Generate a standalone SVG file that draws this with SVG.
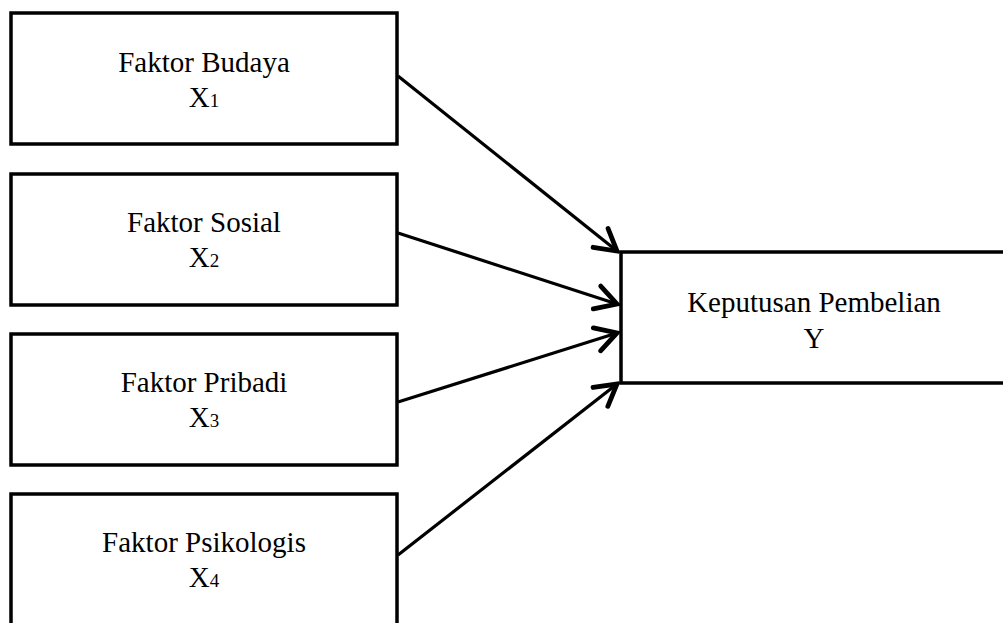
<svg xmlns="http://www.w3.org/2000/svg" width="1003" height="623" viewBox="0 0 1003 623">
<style>
.box{fill:#fff;stroke:#000;stroke-width:3.5}
.t{font-family:"Liberation Serif","Times New Roman",serif;font-size:29px;fill:#000;text-anchor:middle}
.sub{font-size:19px}
.c{stroke:#000;stroke-width:3.2;fill:none;marker-end:url(#ah)}
</style>
<defs>
<marker id="ah" markerUnits="userSpaceOnUse" markerWidth="30" markerHeight="30" refX="18" refY="10" orient="auto" viewBox="0 0 20 20">
<path d="M4,2 L18,10 L4,18" fill="none" stroke="#000" stroke-width="3.2" stroke-linecap="round" stroke-linejoin="miter"/>
</marker>
</defs>
<g id="x1"><rect class="box" x="11" y="13" width="386" height="131"/>
<text class="t" x="204" y="72">Faktor Budaya</text>
<text class="t" x="204" y="107">X<tspan class="sub">1</tspan></text></g>
<g id="x2"><rect class="box" x="11" y="174" width="386" height="131"/>
<text class="t" x="204" y="232">Faktor Sosial</text>
<text class="t" x="204" y="267">X<tspan class="sub">2</tspan></text></g>
<g id="x3"><rect class="box" x="11" y="334" width="386" height="131"/>
<text class="t" x="204" y="392">Faktor Pribadi</text>
<text class="t" x="204" y="427">X<tspan class="sub">3</tspan></text></g>
<g id="x4"><rect class="box" x="11" y="494" width="386" height="135"/>
<text class="t" x="204" y="552">Faktor Psikologis</text>
<text class="t" x="204" y="587">X<tspan class="sub">4</tspan></text></g>
<g id="y"><rect class="box" x="621" y="252" width="400" height="131"/>
<text class="t" x="814" y="312">Keputusan Pembelian</text>
<text class="t" x="814" y="348">Y</text></g>
<g id="connectors">
<line class="c" x1="398" y1="76" x2="617" y2="251"/>
<line class="c" x1="398" y1="233" x2="617" y2="304"/>
<line class="c" x1="398" y1="402" x2="617" y2="333"/>
<line class="c" x1="398" y1="555" x2="617" y2="384"/>
</g>
</svg>
